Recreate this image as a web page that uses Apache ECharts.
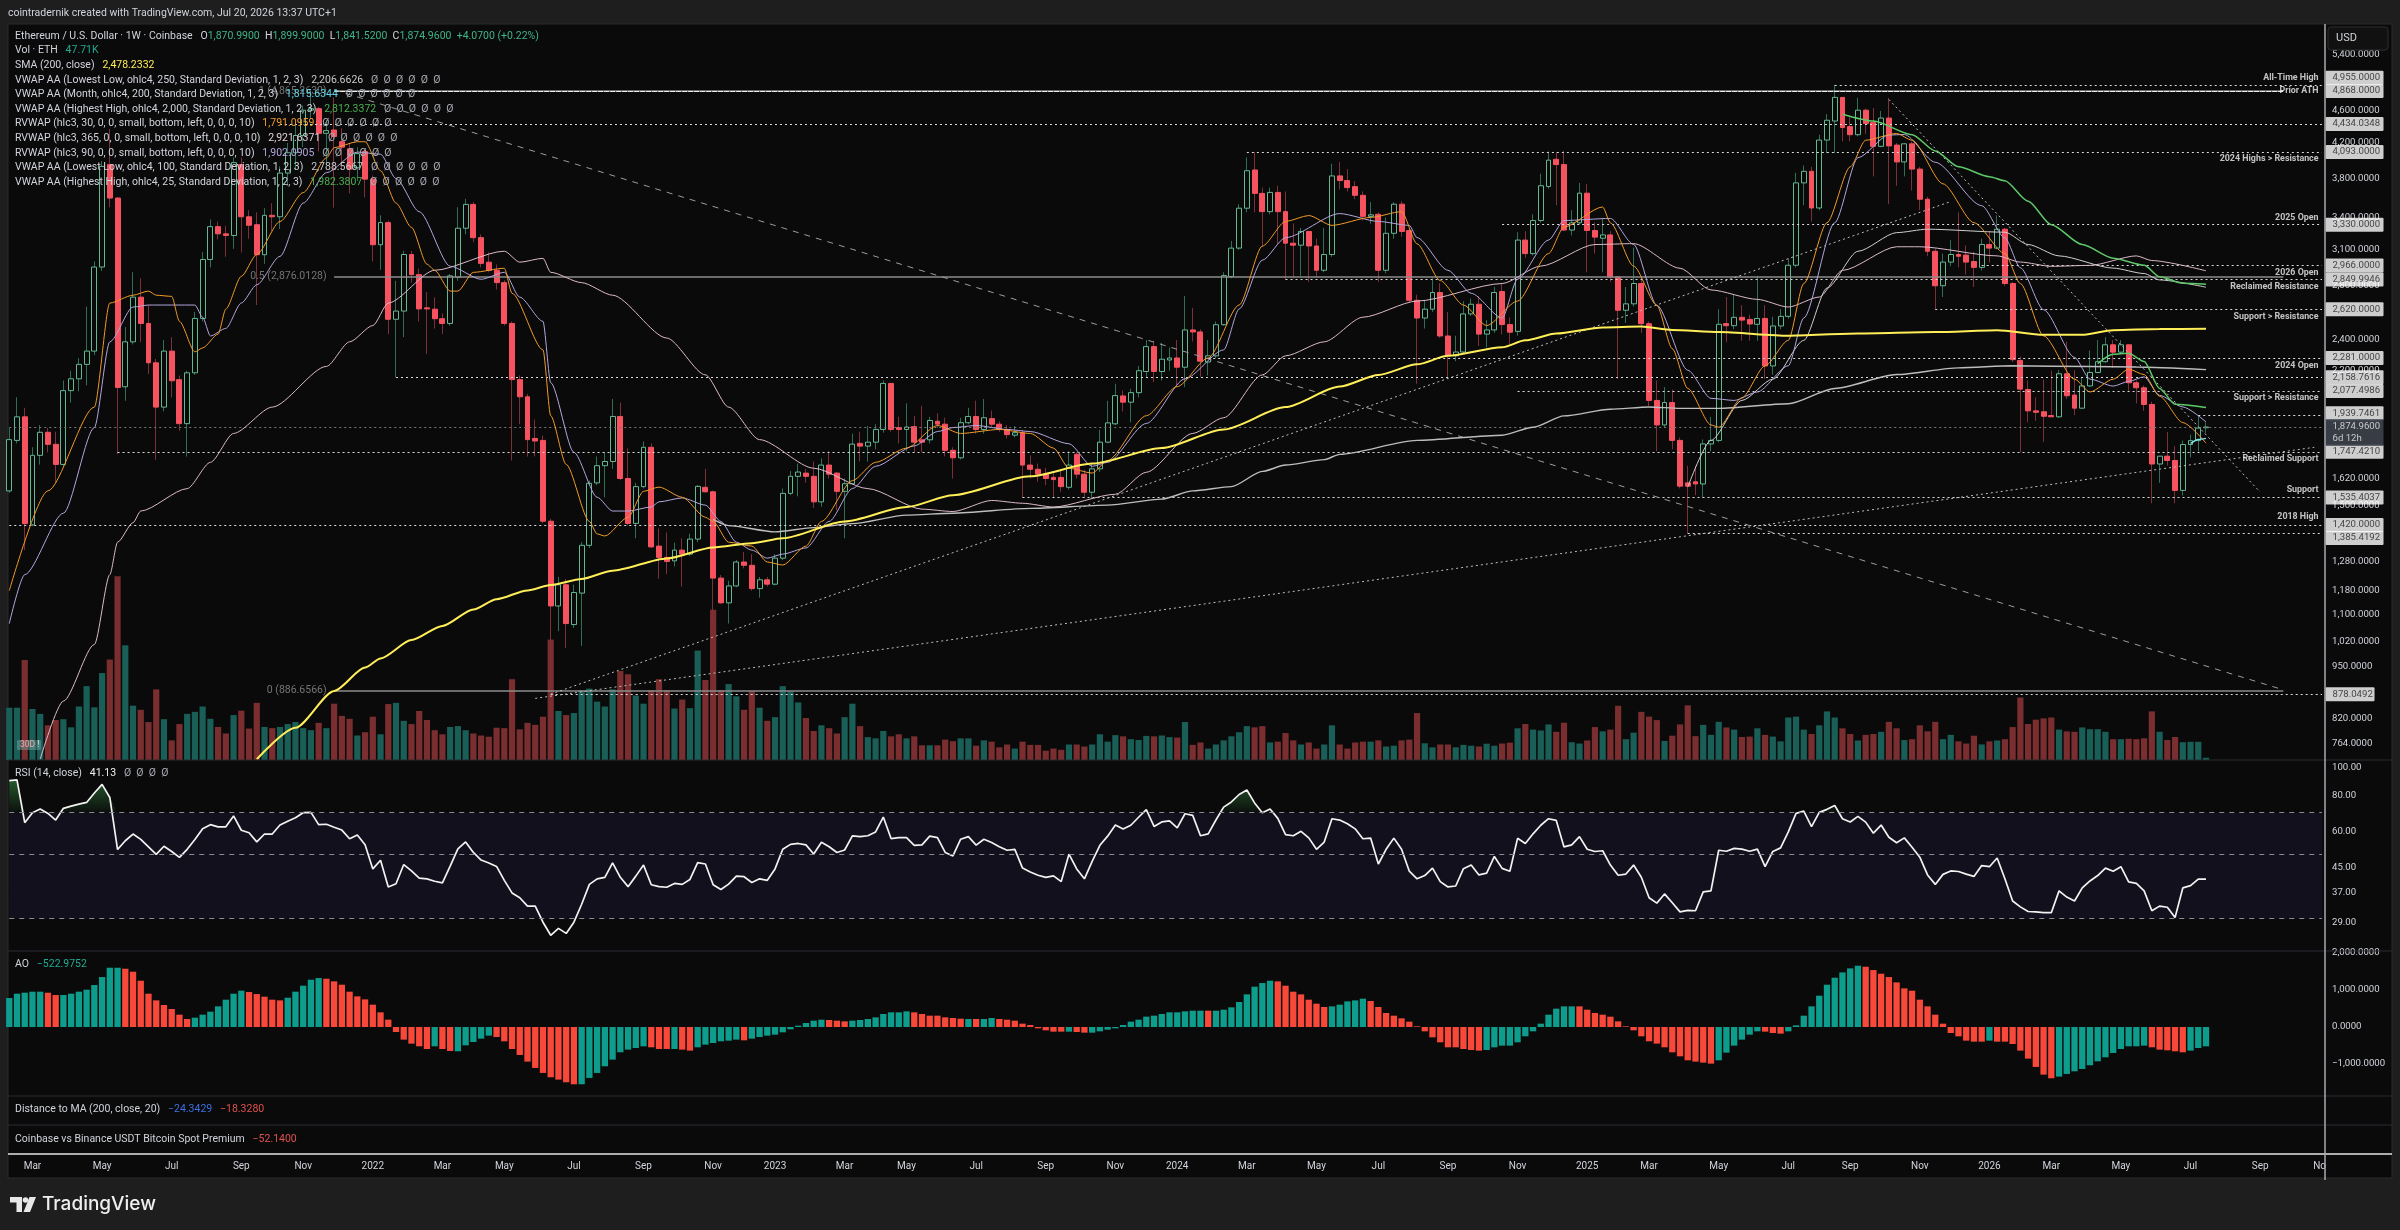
<!DOCTYPE html>
<html><head><meta charset="utf-8"><title>ETHUSD</title>
<script src="https://cdn.jsdelivr.net/npm/echarts@6/dist/echarts.min.js"></script>
<style>html,body{margin:0;padding:0;background:#1e1e1e}#c{width:2400px;height:1230px}</style></head>
<body><div id="c"></div>
<script>
// weekly bars, [open, high, low, close], first bar = week of 8 Feb 2021
const ohlc=[
[1564,1870,1555,1809],[1805,2040,1790,1930],[1930,1980,1322,1425],[1420,1770,1415,1730],[1730,1885,1685,1847],[1847,1870,1745,1785],[1785,1850,1600,1686],[1686,2140,1678,2079],[2079,2200,2010,2150],[2150,2280,2075,2240],
[2240,2640,2110,2326],[2326,3000,2300,2953],[2953,3990,2920,3930],[3950,4370,3500,3592],[3592,3600,1735,2098],[2102,2490,2020,2388],[2388,2910,2370,2711],[2711,2860,2385,2516],[2516,2650,2180,2250],[2250,2275,1708,1984],
[1984,2400,1960,2326],[2326,2420,2040,2138],[2145,2170,1855,1893],[1893,2200,1724,2187],[2187,2600,2174,2552],[2552,3080,2530,3017],[3017,3380,2950,3312],[3312,3360,3195,3245],[3245,3320,3040,3230],[3230,4030,3110,3972],
[3950,4030,3078,3406],[3406,3470,3200,3325],[3330,3450,2651,3058],[3058,3490,2980,3420],[3420,3540,3270,3406],[3406,3930,3290,3856],[3856,4200,3720,4085],[4085,4460,3890,4290],[4290,4670,4150,4610],[4610,4868,4500,4630],
[4630,4650,4100,4317],[4317,4480,3950,4350],[4358,4780,3495,4278],[4215,4380,3900,4150],[4130,4200,3640,3900],[3915,4150,3770,4075],[4098,4130,3600,3790],[3790,3830,3000,3146],[3146,3420,2930,3350],[3350,3370,2440,2546],
[2546,2840,2159,2606],[2606,3090,2420,3060],[3060,3090,2825,2890],[2890,2940,2530,2622],[2630,2750,2307,2622],[2620,2710,2480,2550],[2550,2590,2441,2516],[2516,2895,2500,2880],[2869,3500,2840,3297],[3297,3584,3240,3528],
[3528,3550,3170,3210],[3210,3240,2950,2984],[2994,3078,2910,2926],[2926,2975,2770,2825],[2825,2845,2500,2516],[2516,2530,1705,2145],[2145,2170,1890,2043],[2043,2060,1724,1809],[1815,1915,1725,1802],[1805,1830,1427,1435],
[1435,1445,878,1128],[1128,1225,1050,1198],[1198,1218,1001,1073],[1070,1198,1060,1172],[1170,1352,1007,1340],[1340,1610,1330,1598],[1600,1724,1590,1680],[1680,1745,1536,1700],[1700,2030,1665,1932],[1932,2010,1612,1620],
[1620,1765,1418,1426],[1426,1600,1367,1583],[1583,1800,1575,1770],[1770,1790,1330,1334],[1337,1405,1218,1295],[1295,1390,1235,1280],[1282,1350,1262,1322],[1322,1367,1192,1307],[1307,1385,1300,1364],[1364,1590,1352,1584],
[1580,1665,1555,1560],[1560,1565,1073,1221],[1221,1232,1135,1138],[1138,1212,1073,1194],[1194,1285,1190,1278],[1278,1315,1255,1266],[1266,1307,1178,1185],[1185,1225,1155,1215],[1215,1225,1192,1200],[1200,1307,1196,1292],
[1292,1575,1285,1553],[1553,1655,1545,1630],[1630,1690,1540,1650],[1645,1665,1600,1630],[1630,1700,1490,1516],[1516,1715,1495,1683],[1683,1750,1620,1640],[1645,1650,1480,1562],[1562,1620,1367,1596],[1596,1840,1595,1786],
[1790,1850,1700,1776],[1776,1880,1700,1796],[1796,1890,1760,1862],[1862,2140,1845,2122],[2122,2125,1850,1862],[1872,1930,1790,1862],[1862,2005,1750,1875],[1877,1935,1745,1796],[1808,1990,1745,1796],[1808,1930,1790,1910],
[1906,1950,1870,1890],[1890,1925,1725,1755],[1755,1770,1620,1718],[1718,1925,1710,1898],[1898,1980,1890,1932],[1932,2020,1840,1862],[1862,2030,1840,1925],[1920,1965,1870,1890],[1890,1905,1850,1862],[1862,1885,1815,1835],
[1832,1880,1820,1845],[1845,1860,1535,1683],[1683,1730,1620,1663],[1663,1690,1605,1640],[1640,1670,1590,1620],[1625,1650,1535,1615],[1625,1660,1560,1583],[1580,1750,1570,1683],[1735,1745,1620,1640],[1640,1660,1535,1558],
[1558,1690,1530,1665],[1665,1860,1650,1796],[1796,2020,1790,1897],[1892,2120,1885,2050],[2048,2080,1960,2012],[2012,2090,1900,2067],[2067,2230,2040,2200],[2195,2400,2160,2356],[2356,2395,2130,2195],[2195,2380,2140,2273],
[2268,2350,2200,2281],[2281,2400,2110,2222],[2222,2720,2100,2470],[2470,2630,2390,2456],[2456,2475,2162,2260],[2255,2400,2170,2295],[2295,2530,2280,2507],[2507,2910,2500,2882],[2875,3180,2860,3116],[3116,3530,3100,3490],
[3490,4030,3450,3882],[3890,4093,3450,3640],[3640,3700,3130,3456],[3456,3700,3430,3650],[3650,3720,3150,3456],[3456,3660,2850,3160],[3160,3340,2860,3142],[3142,3300,2880,3267],[3267,3270,2830,3135],[3135,3200,2870,2926],
[2926,3300,2910,3060],[3060,3960,3040,3825],[3825,3980,3680,3775],[3775,3900,3660,3700],[3710,3770,3580,3620],[3620,3660,3370,3410],[3410,3550,3340,3425],[3430,3450,2830,2926],[2926,3400,2900,3250],[3250,3550,3200,3530],
[3530,3560,3220,3267],[3275,3290,2670,2687],[2687,2730,2120,2555],[2555,2690,2480,2620],[2620,2860,2600,2747],[2747,2820,2415,2428],[2428,2600,2160,2295],[2295,2430,2260,2320],[2320,2680,2310,2585],[2585,2700,2570,2657],
[2657,2720,2360,2441],[2441,2540,2350,2470],[2470,2790,2450,2747],[2755,2815,2440,2508],[2508,2560,2370,2454],[2460,3260,2430,3188],[3188,3270,3030,3068],[3068,3430,3050,3370],[3370,3850,3350,3720],[3712,4100,3690,4000],
[4010,4093,3520,3950],[3950,4107,3270,3280],[3280,3470,3230,3348],[3348,3750,3330,3642],[3642,3740,2910,3276],[3276,3350,3068,3215],[3205,3390,2910,3235],[3235,3270,2830,2870],[2870,2880,2150,2612],[2612,2790,2520,2660],
[2660,3120,2640,2818],[2818,2870,2450,2514],[2514,2530,1990,2022],[2022,2140,1750,1886],[1886,2100,1870,2010],[2010,2085,1760,1805],[1805,1820,1575,1585],[1600,1680,1385,1585],[1605,1680,1545,1595],[1595,1810,1535,1787],
[1787,1930,1750,1805],[1805,2620,1795,2510],[2515,2712,2385,2500],[2500,2730,2475,2560],[2560,2650,2395,2540],[2545,2580,2395,2512],[2510,2880,2395,2552],[2552,2650,2150,2230],[2230,2565,2175,2498],[2498,2620,2475,2567],
[2567,3025,2550,2968],[2968,3860,2950,3750],[3750,3940,3520,3875],[3875,3925,3360,3492],[3492,4300,3470,4235],[4235,4560,4080,4480],[4470,4955,4080,4780],[4780,4780,4220,4388],[4400,4520,4220,4300],[4300,4775,4280,4610],
[4610,4630,4310,4440],[4450,4640,3820,4160],[4160,4600,4150,4508],[4508,4770,3530,4165],[4175,4200,3720,3980],[3980,4200,3820,4190],[4190,4215,3670,3900],[3900,3925,3470,3580],[3580,3605,3045,3088],[3088,3110,2620,2800],
[2800,3068,2712,2995],[2995,3188,2960,3060],[3060,3450,2950,3045],[3055,3140,2890,2995],[3000,3085,2790,2950],[2950,3200,2925,3148],[3148,3270,2990,3116],[3116,3420,3105,3288],[3288,3300,2800,2818],[2818,2830,2255,2270],
[2265,2290,1745,2088],[2086,2140,1900,1963],[1963,2040,1908,1955],[1958,2146,1798,1933],[1937,2200,1937,1930],[1930,2204,1925,2181],[2181,2389,2030,2049],[2053,2203,1939,1978],[1978,2160,1975,2107],[2107,2330,2100,2189],
[2189,2400,2185,2257],[2257,2420,2250,2368],[2368,2400,2217,2319],[2319,2400,2310,2368],[2368,2368,2080,2126],[2126,2140,2005,2096],[2096,2110,1963,1999],[1999,2015,1510,1688],[1688,1726,1600,1726],[1726,1849,1680,1705],
[1705,1776,1510,1566],[1566,1804,1543,1784],[1784,1835,1720,1804],[1804,1933,1750,1869],[1870.99,1899.9,1841.52,1874.96]];

// weekly volume, thousands of ETH
const volume=[1082,1082,2070,1056,955,718,828,845,676,1107,1529,1090,1800,2079,3803,2374,1124,1039,786,1462,845,406,744,955,997,1107,853,684,549,930,1022,651,1183,684,659,684,744,786,659,617,769,659,1166,913,853,507,575,896,532,1158,1183,811,744,1014,828,617,532,684,701,617,549,507,482,668,659,1673,634,769,727,896,2493,1014,930,972,1445,1479,1208,1107,1462,1842,1775,1335,1166,1445,1673,1445,1065,1251,1073,2265,1656,3110,1445,1572,1318,1039,1420,1082,811,887,1529,1420,1191,870,600,718,659,549,887,1166,701,473,448,600,490,532,448,490,304,304,304,422,389,448,448,296,406,380,262,321,237,380,313,313,194,237,211,321,321,279,321,532,380,515,490,431,414,499,490,507,473,465,786,313,363,237,321,406,490,575,701,676,701,363,380,558,406,321,363,237,321,718,321,237,363,380,380,406,279,296,406,422,972,346,262,321,321,262,313,296,279,338,296,341,359,656,745,629,611,736,584,772,368,341,404,682,593,629,1123,431,566,997,898,826,395,503,736,1131,494,727,521,790,674,629,476,485,656,521,485,386,880,898,629,539,718,1006,880,656,539,404,521,539,584,790,656,413,431,718,593,790,431,521,386,341,503,323,386,404,431,682,1293,745,835,862,880,629,593,584,674,638,638,584,431,431,440,431,449,1006,584,413,476,368,377,377,47.71];

const rsi=[90.5,91,64.6,70,72.1,69.6,66,72.5,73.8,75,76,82,87.8,79.1,52.1,55.9,59,56.5,53.2,50.1,53.5,51.3,48.9,52.2,56.5,61.6,63.6,62.5,62.5,68.2,60.8,59.6,55.4,59,59,63.4,65.4,67.2,70,70.2,63.6,63.8,62.3,60.9,56.8,58.5,54.1,44.6,47.8,38.6,39.6,46.2,43.9,41.4,41.2,40.4,39.9,45.6,52.4,55.4,50.9,47.9,46.8,45.5,40.7,36.8,35.4,33.1,33.1,29.1,26.2,27.7,26.6,29.1,33.6,39.4,41.2,41.7,46.8,41.7,38.7,42.1,46,39.3,38.7,38.5,39.7,39.4,41,46.9,46.4,39.3,37.8,39.5,42.1,41.9,40,41.2,40.7,44.6,52.2,54.3,54.7,54.1,50.3,55.2,53.3,50.9,51.9,58.1,57.8,58.2,60,67.6,56.9,57.3,57.3,53.9,54.1,58,57.3,50.9,49.5,56.6,57.8,54,56.6,55.1,53.3,51.8,52.2,44.9,43.5,42.4,41.7,42.2,40.3,50.2,44.6,41.2,47.4,53.9,58,63.4,61.4,63.3,67.5,71.7,62.7,65,65.6,62,69.4,68.5,58.2,59.1,66,73.2,76.3,81,84,75.7,70,72.1,66.9,58.7,58.2,60.3,57.2,52.2,55.3,66.7,66,64.1,61.5,56.8,57.1,46.4,52.2,57.1,52.2,43.8,41.2,42.3,44.9,40.3,38.6,38.9,44.7,46,42.5,43.1,49.3,44.8,43.8,57,54.7,59.1,63.3,66.7,65.8,53.2,54.1,57.8,52.2,51.3,51.6,46,42.4,42.8,46,41.7,35.4,33.9,36.5,34,31.6,32,31.9,37.1,37.4,51.8,51.4,52.6,52.3,51.4,52.3,45.4,51.3,52.8,60,69.6,70.9,62.6,70.2,71.9,74.2,66.7,65,68,64.9,59.4,63.4,57.5,55,57.2,53.1,49,42.5,39.4,42.7,43.9,43.7,42.8,42,45.8,45.4,48.7,41.2,34.5,32.9,31.7,31.6,31.4,31.4,37.4,35.6,34.5,38.3,40.5,42.3,44.9,43.8,45.4,40.2,39.7,37.4,31.9,33.1,32.8,30.2,38.3,39,41.1,41.13];

const ao=[783,900,927,954,954,927,864,864,900,954,1008,1134,1350,1602,1602,1575,1494,1251,900,720,594,486,333,216,252,333,414,558,738,900,981,945,891,819,738,720,792,954,1116,1278,1323,1305,1233,1143,954,828,747,603,396,198,-135,-342,-450,-522,-594,-522,-594,-648,-657,-495,-405,-315,-234,-270,-387,-594,-756,-936,-1107,-1242,-1359,-1422,-1494,-1548,-1548,-1377,-1242,-1062,-882,-684,-612,-567,-522,-549,-594,-594,-594,-612,-639,-549,-477,-432,-387,-369,-342,-360,-315,-270,-234,-207,-144,-63,36,108,171,198,189,171,153,171,189,216,261,351,396,396,423,396,351,306,306,261,243,225,216,216,216,243,216,198,171,90,54,-36,-90,-126,-126,-126,-135,-153,-153,-117,-72,-36,54,144,198,279,306,351,396,396,423,441,441,441,441,468,531,675,882,1089,1188,1251,1233,1116,954,882,738,630,540,558,603,693,720,765,702,540,378,306,234,144,18,-117,-279,-414,-549,-549,-594,-621,-639,-621,-549,-504,-504,-414,-252,-117,90,333,495,558,558,558,468,378,333,279,153,18,-90,-252,-387,-450,-549,-684,-792,-900,-936,-963,-990,-900,-693,-504,-342,-207,-117,-126,-162,-180,-117,45,306,558,846,1143,1332,1476,1584,1656,1629,1539,1440,1350,1206,1044,981,738,558,333,90,-162,-252,-369,-396,-396,-369,-396,-396,-459,-639,-855,-1080,-1287,-1386,-1341,-1269,-1197,-1134,-1035,-927,-819,-702,-594,-522,-522,-504,-549,-612,-630,-657,-684,-639,-567,-522.98];
// index ranges where the AO histogram is falling (red)
const aoFalling=[[5,6],[15,23],[31,35],[41,54],[56,57],[63,73],[83,85],[87,88],[95,95],[106,108],[117,123],[125,125],[128,136],[138,139],[155,155],[164,170],[176,190],[203,220],[227,229],[240,255],[257,264],[277,281]];

// overlay lines, [bar index, price], read at their turning points
const sma200=[[32,730],[37,798],[42,886],[46,947],[48,972],[52,1024],[56,1066],[60,1117],[63,1150],[67,1179],[70,1197],[74,1218],[78,1247],[85,1291],[91,1332],[96,1348],[100,1367],[108,1434],[116,1494],[122,1545],[132,1630],[140,1690],[149,1766],[157,1862],[165,1984],[172,2103],[177,2174],[182,2240],[186,2295],[193,2351],[196,2398],[200,2445],[206,2488],[211,2494],[215,2470],[221,2455],[230,2430],[239,2445],[249,2455],[257,2468],[263,2436],[268,2436],[272,2468],[278,2477],[284,2478.23]];
const rvwap30=[[0,1178],[5,1564],[11,1984],[13,2666],[16,2726],[18,2758],[19,2726],[21,2717],[22,2531],[24,2321],[25,2347],[27,2441],[28,2621],[30,2876],[32,3061],[35,3361],[38,3648],[41,4025],[42,4144],[45,4215],[46,4215],[48,3882],[50,3541],[52,3305],[54,2977],[55,2926],[57,2758],[58,2758],[60,2909],[64,2943],[65,2741],[69,2334],[70,1936],[72,1686],[75,1434],[76,1384],[77,1376],[80,1451],[82,1562],[84,1581],[87,1536],[90,1451],[91,1434],[93,1352],[96,1337],[98,1278],[100,1267],[103,1337],[105,1434],[109,1610],[112,1696],[116,1766],[120,1883],[123,1841],[128,1862],[132,1841],[135,1766],[137,1668],[140,1645],[142,1705],[147,1936],[151,2103],[155,2281],[159,2651],[162,3134],[165,3361],[168,3418],[171,3324],[176,3400],[180,3456],[182,3154],[185,2842],[188,2651],[191,2501],[195,2681],[199,3068],[201,3309],[206,3502],[207,3348],[210,2961],[213,2649],[215,2342],[217,2092],[220,1886],[221,1874],[224,2037],[227,2231],[230,2398],[232,2818],[235,3349],[238,3925],[240,4233],[244,4315],[246,4233],[250,3740],[254,3349],[258,3068],[260,2818],[263,2429],[267,2148],[269,2071],[272,2148],[274,2210],[276,2176],[278,2046],[281,1899],[284,1791.09]];
const rvwap90=[[0,1073],[2,1233],[7,1468],[11,1872],[13,2388],[16,2636],[18,2651],[24,2651],[25,2561],[26,2428],[28,2481],[30,2666],[32,2808],[35,3044],[38,3541],[41,3860],[45,4093],[48,4068],[50,3797],[53,3456],[57,2960],[61,2852],[64,2909],[66,2711],[69,2531],[70,2126],[73,1745],[76,1536],[78,1477],[80,1477],[83,1494],[84,1516],[87,1533],[90,1502],[92,1434],[94,1352],[96,1322],[98,1292],[100,1307],[103,1330],[106,1434],[109,1574],[112,1677],[117,1777],[120,1851],[122,1872],[125,1883],[129,1862],[132,1851],[137,1788],[140,1677],[142,1696],[147,1894],[152,2150],[157,2334],[159,2621],[162,3011],[165,3210],[172,3437],[177,3361],[181,3324],[182,3210],[186,2926],[189,2741],[193,2555],[195,2854],[199,3188],[201,3370],[207,3390],[210,3148],[213,2649],[217,2203],[220,2034],[223,2022],[226,2071],[230,2231],[232,2555],[236,3349],[239,4028],[243,4296],[245,4302],[249,3976],[255,3515],[258,3208],[260,2947],[263,2616],[267,2285],[269,2148],[272,2106],[274,2134],[276,2162],[278,2051],[281,1985],[284,1902.09]];
const rvwap365=[[4,730],[7,861],[11,1011],[13,1233],[14,1352],[16,1429],[17,1477],[23,1574],[26,1696],[29,1841],[34,1984],[41,2227],[44,2388],[47,2501],[49,2666],[55,2926],[64,3089],[66,2994],[69,3027],[70,2909],[74,2825],[78,2726],[85,2414],[90,2174],[93,1984],[97,1809],[104,1668],[111,1574],[118,1485],[122,1475],[127,1522],[131,1510],[135,1494],[143,1549],[147,1649],[153,1841],[157,1925],[162,2174],[165,2295],[170,2388],[175,2561],[182,2681],[193,2818],[198,2961],[205,3148],[210,3156],[216,2943],[220,2767],[226,2694],[230,2636],[234,2712],[237,2925],[244,3128],[247,3128],[257,3048],[260,2995],[264,2959],[269,2967],[275,3048],[277,3008],[284,2921.64]];
const vwapLow250=[[91,1442],[93,1417],[99,1392],[104,1409],[109,1425],[116,1460],[122,1468],[132,1488],[142,1502],[149,1528],[153,1564],[158,1583],[162,1653],[165,1683],[170,1709],[172,1735],[182,1805],[193,1832],[197,1874],[201,1935],[207,1972],[212,1985],[216,1977],[221,1977],[230,2003],[236,2092],[244,2176],[252,2218],[259,2231],[269,2226],[275,2223],[284,2206.66]];
const vwapLow100=[[217,1581],[220,1805],[224,2022],[228,2148],[232,2398],[235,2782],[239,3088],[244,3256],[248,3288],[258,3260],[261,3148],[265,3048],[272,2944],[276,2899],[278,2847],[284,2788.57]];
const vwapHigh2000=[[237,4556],[241,4469],[246,4300],[249,4106],[252,3925],[256,3816],[258,3773],[261,3560],[264,3330],[268,3148],[272,3028],[276,2968],[278,2873],[281,2821],[284,2812.34]];
const vwapHigh25=[[270,2245],[272,2305],[274,2311],[276,2258],[278,2092],[280,2000],[284,1982.38]];
const vwapMonth=[[282,1790],[283,1810],[284,1815.63]];

// horizontal levels: [first bar index, price]
const dottedLevels=[[236,4955],[35,4434.0348],[160,4093],[193,3330],[255,2966],[165,2849.9946],[249,2620],[155,2281],[50,2158.7616],[195,2077.4986],[283,1939.7461],[14,1747.421],[131,1535.4037],[0,1420],[217,1385.4192],[70,878.0492]];
const lastPrice=1874.96;
const fibLevels=[[42,4865.263,'1 (4,865.2630)'],[42,2876.0128,'0.5 (2,876.0128)'],[42,886.6566,'0 (886.6566)']];
// sloped trend lines: [bar, price, bar, price]
const dottedTrends=[[70,878,251,3557],[68,867.7,298,1770],[243,4752,291,1559]];
const dashedTrend=[42,4885,294,889];
const fibEndBar=294;

// price annotations: [text, anchor price]
const levelNotes=[['All-Time High',5056],['Prior ATH',4868],['2024 Highs > Resistance',4013],['2025 Open',3394],['2026 Open',2904],['Reclaimed Resistance',2793],['Support > Resistance',2565],['2024 Open',2231],['Support > Resistance',2036],['Reclaimed Support',1712],['Support',1568],['2018 High',1452]];
// price tags: [shown value, anchor price]
const priceTags=[[4955,5056],[4868,4868],[4434.0348,4434],[4093,4093],[3330,3330],[2966,2966],[2849.9946,2850],[2620,2620],[2281,2281],[2158.7616,2158.76],[2077.4986,2077.5],[1939.7461,1950],[1747.421,1747.4],[1535.4037,1535.4],[1420,1420],[1385.4192,1368],[878.0492,878]];
const priceTicks=[5400,4600,4200,3800,3400,3100,2800,2400,2200,1620,1500,1280,1180,1100,1020,950,820,764];
const rsiTicks=[80,60,45,37,29];
const rsiTopTick=100;
const aoTicks=[2000,1000,0,-1000];

const monthNames=['','','Mar','','May','','Jul','','Sep','','Nov',''];
const WEEK=7*864e5, START=Date.UTC(2021,1,8), BARS=300;
const categories=Array.from({length:BARS},(_,i)=>{
  const d=new Date(START+i*WEEK), m=d.getUTCMonth();
  if(d.getUTCDate()>7) return '';
  if(m===0) return String(d.getUTCFullYear());
  return monthNames[m];
});
const RED='#f7525f',AORED='#f7483a',AOGREEN='#0e9d8c';
const FONT='Roboto, "Liberation Sans", sans-serif';
const TXT='#d1d4dc';
const AXF=9.6;
const f4=v=>(v<0?'\u2212':'')+Math.abs(v).toLocaleString('en-US',{minimumFractionDigits:4,maximumFractionDigits:4});
const f2=v=>v.toFixed(2);

const isFalling=i=>aoFalling.some(r=>i>=r[0]&&i<=r[1]);
const lineSeries=(name,data,color,width)=>({name,type:'line',xAxisIndex:0,yAxisIndex:0,data,showSymbol:false,symbol:'none',
  lineStyle:{color,width},smooth:0.25,smoothMonotone:'x',silent:true,z:6,clip:true,animation:false});

const levelLines=[];
fibLevels.forEach(l=>levelLines.push([{coord:[l[0],l[1]],lineStyle:{color:'#8c8c8c',type:'solid',width:1.6}},{coord:[fibEndBar,l[1]]}]));
dottedLevels.forEach(l=>levelLines.push([{coord:[l[0],l[1]],lineStyle:{color:'#dcdcdc',type:[2,3],width:1}},{coord:[299,l[1]]}]));
levelLines.push([{coord:[0,lastPrice],lineStyle:{color:'#777',type:[2,3],width:1}},{coord:[299,lastPrice]}]);
levelLines.push([{coord:[42,4868],lineStyle:{color:'#f0f0f0',type:[5,1],width:1}},{coord:[fibEndBar,4868]}]);
dottedTrends.forEach(t=>levelLines.push([{coord:[t[0],t[1]],lineStyle:{color:'#bdbdbd',type:[2,3],width:1}},{coord:[t[2],t[3]]}]));
levelLines.push([{coord:[dashedTrend[0],dashedTrend[1]],lineStyle:{color:'#9c9c9c',type:[6,6],width:1}},{coord:[dashedTrend[2],dashedTrend[3]]}]);

const series=[
 {name:'Volume',type:'bar',xAxisIndex:0,yAxisIndex:1,barWidth:6.2,z:1,silent:true,animation:false,
  data:volume.map((v,i)=>({value:v,itemStyle:{color:ohlc[i][3]>=ohlc[i][0]?'#195f57':'#7a2e30'}}))},
 {name:'Levels',type:'line',xAxisIndex:0,yAxisIndex:0,data:[],z:2,silent:true,animation:false,
  markLine:{silent:true,symbol:['none','none'],animation:false,label:{show:false},data:levelLines}},
 {name:'Wicks',type:'candlestick',xAxisIndex:0,yAxisIndex:0,barWidth:1,z:3,silent:true,animation:false,
  data:ohlc.map(r=>[r[0],r[3],r[2],r[1]]),
  itemStyle:{color:'#2f6f58',color0:'#7d2f3a',borderColor:'#2f6f58',borderColor0:'#7d2f3a',borderWidth:1}},
 {name:'Bodies',type:'candlestick',xAxisIndex:0,yAxisIndex:0,barWidth:5.4,z:4,silent:true,animation:false,
  data:ohlc.map(r=>[r[0],r[3],Math.min(r[0],r[3]),Math.max(r[0],r[3])]),
  itemStyle:{color:'#0a0a0a',color0:RED,borderColor:'#63b892',borderColor0:RED,borderWidth:1}},
 lineSeries('RVWAP 365',rvwap365,'#dcb9cb',1),
 lineSeries('VWAP Low 250',vwapLow250,'#bdbdbd',1.4),
 lineSeries('VWAP Low 100',vwapLow100,'#cfcfcf',1),
 lineSeries('RVWAP 90',rvwap90,'#b3a6dc',1),
 lineSeries('RVWAP 30',rvwap30,'#f09a2a',1),
 lineSeries('VWAP High 2000',vwapHigh2000,'#5fc96a',1.5),
 lineSeries('VWAP High 25',vwapHigh25,'#5fc96a',1.5),
 lineSeries('VWAP Month',vwapMonth,'#7fe3ea',1.4),
 lineSeries('SMA 200',sma200,'#ffee58',2),
 {name:'Notes',type:'scatter',xAxisIndex:0,yAxisIndex:0,symbolSize:1,itemStyle:{color:'transparent'},z:8,silent:true,animation:false,clip:false,
  data:levelNotes.map(n=>({value:[299,n[1]],name:n[0]})),
  label:{show:true,position:'left',distance:3,formatter:p=>p.name,color:'#f0f0f0',fontFamily:FONT,fontSize:8.9,fontWeight:'bold'}},
 {name:'FibLabels',type:'scatter',xAxisIndex:0,yAxisIndex:0,symbolSize:1,itemStyle:{color:'transparent'},z:8,silent:true,animation:false,clip:false,
  data:fibLevels.map(l=>({value:[l[0],l[1]],name:l[2]})),
  label:{show:true,position:'left',distance:7,formatter:p=>p.name,color:'#8f8f8f',fontFamily:FONT,fontSize:10.5}},
 {name:'Tags',type:'scatter',xAxisIndex:0,yAxisIndex:0,symbolSize:1,itemStyle:{color:'transparent'},z:20,silent:true,animation:false,clip:false,
  data:priceTags.map(t=>({value:[299,t[1]],name:f4(t[0]),label:t[0]<1000?{width:42}:{}})),
  label:{show:true,position:'right',distance:3,formatter:p=>p.name,color:'#202020',backgroundColor:'#ffffff',borderRadius:1,padding:[2,0,2,7],width:51,height:10,lineHeight:10,align:'left',fontFamily:FONT,fontSize:AXF}},
 {name:'Last',type:'scatter',xAxisIndex:0,yAxisIndex:0,symbolSize:1,itemStyle:{color:'transparent'},z:21,silent:true,animation:false,clip:false,
  data:[{value:[299,1846],name:f4(lastPrice)+'\n6d 12h'}],
  label:{show:true,position:'right',distance:3,formatter:p=>p.name,color:'#e8e8ea',backgroundColor:'#444854',padding:[2,0,2,7],width:51,lineHeight:11.5,align:'left',fontFamily:FONT,fontSize:AXF}},
 {name:'RSI band',type:'line',xAxisIndex:1,yAxisIndex:2,data:[],z:1,silent:true,animation:false,
  markArea:{silent:true,itemStyle:{color:'#12101c'},data:[[{coord:[0,30]},{coord:[299,70]}]]},
  markLine:{silent:true,symbol:['none','none'],animation:false,label:{show:false},lineStyle:{color:'#8a8a92',type:[5,5],width:1},
   data:[{yAxis:70},{yAxis:50},{yAxis:30}]}},
 {name:'RSI overbought',type:'custom',xAxisIndex:1,yAxisIndex:2,z:2,silent:true,animation:false,clip:true,
  data:rsi.slice(0,-1).map((v,i)=>[i,v,rsi[i+1]]),encode:{x:0,y:[1,2]},
  renderItem:(params,api)=>{
    const i=api.value(0),a=Math.max(api.value(1),70),b=Math.max(api.value(2),70);
    if(a<=70&&b<=70) return null;
    const p70=api.coord([i,70])[1],top=api.coord([i,100])[1];
    const pts=[api.coord([i,a]),api.coord([i+1,b]),api.coord([i+1,70]),api.coord([i,70])];
    return {type:'polygon',shape:{points:pts},style:{fill:new echarts.graphic.LinearGradient(0,top+8,0,p70,[{offset:0,color:'rgba(64,170,80,.55)'},{offset:1,color:'rgba(64,170,80,.03)'}],true)}};
  }},
 {name:'RSI',type:'line',xAxisIndex:1,yAxisIndex:2,data:rsi,showSymbol:false,symbol:'none',lineStyle:{color:'#f2f2f2',width:1.7},z:3,silent:true,animation:false},
 {name:'AO',type:'bar',xAxisIndex:2,yAxisIndex:3,barWidth:6.3,silent:true,animation:false,
  data:ao.map((v,i)=>({value:v,itemStyle:{color:isFalling(i)?AORED:AOGREEN}}))}
];

const panes=[[24,736],[760,191],[951,145],[1096,29],[1125,29]];
const G_LEFT=9.26,G_WIDTH=7.735*(BARS-1);
const grid=panes.map(p=>({left:G_LEFT,top:p[0],width:G_WIDTH,height:p[1],show:false}));
const xAxis=panes.map((p,k)=>({type:'category',gridIndex:k,data:categories,boundaryGap:false,
  axisLine:{show:false},axisTick:{show:false},splitLine:{show:false},
  axisLabel:k===4?{show:true,interval:0,margin:7,color:TXT,fontFamily:FONT,fontSize:10,hideOverlap:false,
    showMinLabel:true,showMaxLabel:true}:{show:false}}));
const yLabel=(ticks,fmt)=>({show:true,customValues:ticks,formatter:fmt,margin:7,color:TXT,fontFamily:FONT,fontSize:AXF,align:'left',showMinLabel:true,showMaxLabel:true,hideOverlap:false});
const yBase={position:'right',offset:3,axisLine:{show:false},axisTick:{show:false},splitLine:{show:false}};
const yAxis=[
 {...yBase,type:'log',gridIndex:0,min:728.4,max:5888,logBase:10,axisLabel:yLabel(priceTicks,v=>f4(+v))},
 {type:'value',gridIndex:0,min:0,max:15235,show:false},
 {...yBase,type:'log',gridIndex:1,min:23.1,max:106.8,logBase:10,axisLabel:yLabel(rsiTicks,v=>f2(+v))},
 {...yBase,type:'value',gridIndex:2,min:-1865,max:2054,axisLabel:yLabel(aoTicks,v=>f4(+v))},
 {type:'value',gridIndex:3,min:0,max:1,show:false},
 {type:'value',gridIndex:4,min:0,max:1,show:false}
];

function textLine(x,y,parts,size){
  const rich={};let s='';
  parts.forEach((p,i)=>{rich['p'+i]={fill:p[1]||TXT,fontSize:size||10.5,fontFamily:FONT};s+='{p'+i+'|'+p[0]+'}';});
  return {type:'text',z:30,silent:true,style:{x,y,text:s,rich,verticalAlign:'middle',textVerticalAlign:'middle',fontSize:size||10.5,fontFamily:FONT}};
}
const O6='\u00d8  \u00d8  \u00d8  \u00d8  \u00d8  \u00d8', O4='\u00d8  \u00d8  \u00d8  \u00d8';
const OC='#a8abb3',G2='#3fb58a';
const legendLines=[
 [36,[['Ethereum / U.S. Dollar \u00b7 1W \u00b7 Coinbase   O'],['1,870.9900',G2],['  H'],['1,899.9000',G2],['  L'],['1,841.5200',G2],['  C'],['1,874.9600',G2],['  +4.0700 (+0.22%)',G2]]],
 [50.7,[['Vol \u00b7 ETH   '],['47.71K','#22ab94']]],
 [65.3,[['SMA (200, close)   '],['2,478.2332','#ffee58']]],
 [80,[['VWAP AA (Lowest Low, ohlc4, 250, Standard Deviation, 1, 2, 3)   '],['2,206.6626','#c8c8c8'],['   '+O6,OC]]],
 [94.6,[['VWAP AA (Month, ohlc4, 200, Standard Deviation, 1, 2, 3)   '],['1,815.6344','#5fd3e6'],['   '+O6,OC]]],
 [109.2,[['VWAP AA (Highest High, ohlc4, 2,000, Standard Deviation, 1, 2, 3)   '],['2,812.3372','#4caf50'],['   '+O6,OC]]],
 [123.8,[['RVWAP (hlc3, 30, 0, 0, small, bottom, left, 0, 0, 0, 10)   '],['1,791.0959','#f09a2a'],['   '+O6,OC]]],
 [138.4,[['RVWAP (hlc3, 365, 0, 0, small, bottom, left, 0, 0, 0, 10)   '],['2,921.6371','#e3cdd8'],['   '+O6,OC]]],
 [153,[['RVWAP (hlc3, 90, 0, 0, small, bottom, left, 0, 0, 0, 10)   '],['1,902.0905','#b3a6dc'],['   '+O6,OC]]],
 [167.6,[['VWAP AA (Lowest Low, ohlc4, 100, Standard Deviation, 1, 2, 3)   '],['2,788.5667','#c8c8c8'],['   '+O6,OC]]],
 [182.2,[['VWAP AA (Highest High, ohlc4, 25, Standard Deviation, 1, 2, 3)   '],['1,982.3807','#4caf50'],['   '+O6,OC]]]
];
const sep=(y,c,w)=>({type:'line',z:25,silent:true,shape:{x1:8,y1:y,x2:2392,y2:y},style:{stroke:c||'#2a2c33',lineWidth:w||1}});
const graphic=[
 {type:'rect',z:-10,silent:true,shape:{x:8,y:24,width:2384,height:1154},style:{fill:'#0a0a0a',stroke:'#2b2b2b',lineWidth:1}},
 {type:'rect',z:26,silent:true,shape:{x:2326,y:1155,width:65,height:22},style:{fill:'#0a0a0a'}},
 sep(760),sep(951),sep(1096),sep(1125),sep(1154,'#e4e4e4',1.5),
 {type:'line',z:27,silent:true,shape:{x1:2325,y1:24,x2:2325,y2:1180},style:{stroke:'#a8abb2',lineWidth:1.5}},
 {type:'rect',z:28,silent:true,shape:{x:2328,y:27,width:60,height:23,r:3},style:{fill:'#111111',stroke:'#2e2e2e',lineWidth:1}},
 textLine(2336,38.5,[['USD']],11),
 textLine(2332,767.5,[[f2(rsiTopTick)]],AXF),
 textLine(8,13,[['cointradernik created with TradingView.com, Jul 20, 2026 13:37 UTC+1']],10.5),
 ...legendLines.map(l=>textLine(15,l[0],l[1])),
 {type:'rect',z:29,silent:true,shape:{x:17,y:740,width:24,height:10,r:1},style:{fill:'rgba(120,170,170,.45)'}},
 textLine(20,745,[['30D',"#f7a0a0"],[' !','#d8e8e8']],8.5),
 textLine(15,773,[['RSI (14, close)   '],['41.13','#f2f2f2'],['   '+O4,OC]]),
 textLine(15,964,[['AO   '],['\u2212522.9752','#22ab94']]),
 textLine(15,1109,[['Distance to MA (200, close, 20)   '],['\u221224.3429','#3f6fe0'],['   '],['\u221218.3280','#e0524f']]),
 textLine(15,1139,[['Coinbase vs Binance USDT Bitcoin Spot Premium   '],['\u221252.1400','#e0524f']]),
 {type:'polygon',z:30,silent:true,shape:{points:[[10,1197],[22,1197],[22,1212],[16.5,1212],[16.5,1202.5],[10,1202.5]]},style:{fill:'#e8e8e8'}},
 {type:'circle',z:30,silent:true,shape:{cx:25.5,cy:1200,r:2.8},style:{fill:'#e8e8e8'}},
 {type:'polygon',z:30,silent:true,shape:{points:[[29.5,1197],[36,1197],[30,1212],[23.5,1212]]},style:{fill:'#e8e8e8'}},
 {type:'text',z:30,silent:true,style:{x:42,y:1204,text:'TradingView',fill:'#efefef',fontSize:19,fontWeight:500,fontFamily:'Inter, Roboto, sans-serif',verticalAlign:'middle',textVerticalAlign:'middle'}}
];

const chart=echarts.init(document.getElementById('c'),null,{width:2400,height:1230});
chart.setOption({backgroundColor:'#1e1e1e',animation:false,grid,xAxis,yAxis,series,graphic});
</script></body></html>
